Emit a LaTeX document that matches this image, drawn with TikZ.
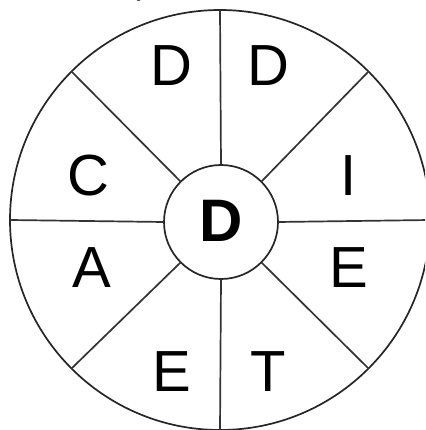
\documentclass[tikz,border=0pt]{standalone}
\usepackage{fontspec}
\setmainfont{Liberation Sans}
\newfontfamily\serifface{Liberation Serif}
\begin{document}
\begin{tikzpicture}[x=1pt,y=-1pt,
  ring/.style={draw=black!85,line width=1.7pt,circle,inner sep=0pt,outer sep=0pt},
  spoke/.style={draw=black!80,line width=1.7pt},
  letter/.style={font=\fontsize{58}{58}\selectfont,inner sep=0pt},
  hub/.style={font=\fontsize{60}{60}\selectfont\bfseries,inner sep=0pt}]
\useasboundingbox (0,0) rectangle (425,430);
\begin{scope}
\clip (0,0) rectangle (425,430);
\node[font=\fontsize{22}{22}\selectfont\serifface,anchor=base,inner sep=0pt] (frag) at (142,-3) {y};
\node[ring,minimum size=420] (outer) at (220,220) {};
\node[ring,minimum size=114] (inner) at (221,222) {};
\foreach \a in {0,45,...,315}{
  \draw[spoke] (inner.\a) -- (outer.\a);
}
\end{scope}
\node[hub] (hubD) at (221,221) {D};
\node[letter] (l1) at (171,66) {D};
\node[letter] (l2) at (268,66) {D};
\node[letter] (l3) at (349,176) {I};
\node[letter] (l4) at (349,268) {E};
\node[letter] (l5) at (268,372) {T};
\node[letter] (l6) at (172,372) {E};
\node[letter] (l7) at (92,268) {A};
\node[letter] (l8) at (88,176) {C};
\end{tikzpicture}
\end{document}
